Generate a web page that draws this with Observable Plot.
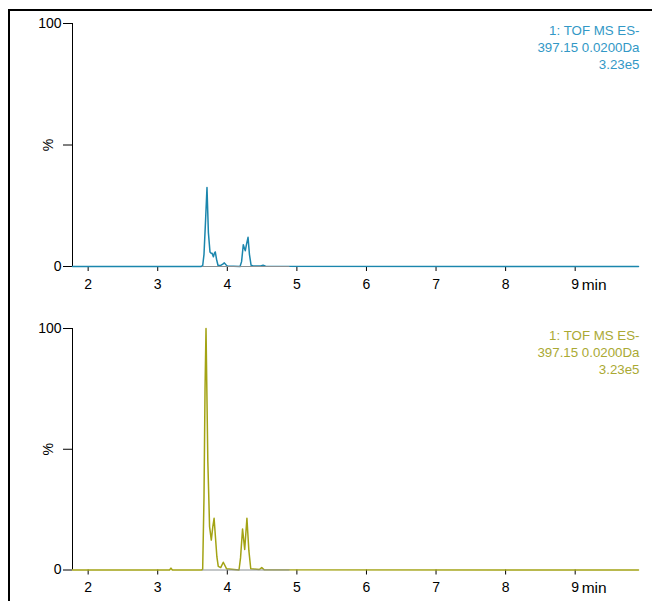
<!DOCTYPE html>
<html>
<head>
<meta charset="utf-8">
<script src="https://cdn.jsdelivr.net/npm/d3@7"></script>
<script src="https://cdn.jsdelivr.net/npm/@observablehq/plot@0.6"></script>
<style>
  html, body { margin: 0; padding: 0; background: #fff; width: 655px; height: 601px; overflow: hidden; }
  #frame { position: absolute; left: 8px; top: 9px; width: 642px; height: 600px; border-left: 2px solid #000; border-top: 2px solid #000; }
  .panel { position: absolute; left: 0; }
  svg { overflow: visible; }
</style>
</head>
<body>
<div id="frame"></div>
<div id="p1" class="panel" style="top:0px"></div>
<div id="p2" class="panel" style="top:302px"></div>
<script>
// ---- data ----
const xTicks = [2, 3, 4, 5, 6, 7, 8, 9];
const yTicks = [0, 50, 100];
const xDomain = [1.775, 9.91];
const titleLines = ["1: TOF MS ES-", "397.15 0.0200Da", "3.23e5"];

// top trace (blue)
const blueTime = [1.775, 3.62, 3.646, 3.665, 3.686, 3.708, 3.728, 3.751, 3.765, 3.78, 3.80, 3.815, 3.827, 3.845, 3.866, 3.90, 3.935, 3.957, 3.98, 4.0, 4.183, 4.205, 4.23, 4.245, 4.259, 4.275, 4.298, 4.318, 4.342, 4.37, 4.48, 4.514, 4.55, 9.91];
const blueInt  = [0,     0,    0.3,   5,     18,    32.5,  14,    6,     5.5,   5.5,  4,    5.5,   6,     3,     0.5,   0.4,  1.0,   1.5,   0.7,  0.2, 0,     2,     9,     7.5,   6.5,   9,     12,    5,     0.5,   0.2,  0.2,  0.5,   0.1,  0];

// bottom trace (olive)
const oliveTime = [1.775, 3.17, 3.19, 3.21, 3.63, 3.646, 3.665, 3.68, 3.694, 3.72, 3.745, 3.77, 3.792, 3.81, 3.85, 3.87, 3.905, 3.942, 3.99, 4.168, 4.19, 4.219, 4.25, 4.282, 4.31, 4.337, 4.46, 4.495, 4.53, 9.91];
const oliveInt  = [0,     0,    0.8,  0,    0,    0.3,   30,    75,   100,   45,   18,    12.4, 18,    21.4, 5.5,  1.5,  1.0,   3.2,   0.5,  0,     5,    17,    8.5,  21.4,  8,    0.5,   0.2,  1.0,   0.1,  0];

const blueLine = "#1b86ad", blueText = "#3298c6";
const oliveLine = "#a3a314", oliveText = "#aaa933";

function panel(time, inten, lineColor, textColor, marginTop, height, marginBottom) {
  const data = time.map((t, i) => ({t, v: inten[i]}));
  return Plot.plot({
    width: 655, height, marginLeft: 72, marginRight: 17, marginTop, marginBottom,
    x: {domain: xDomain},
    y: {domain: [0, 100]},
    style: {fontFamily: "'Liberation Sans', Arial, sans-serif", fontSize: "14px", color: "#000", background: "transparent"},
    marks: [
      Plot.ruleX([xDomain[0]], {y1: 0, y2: 100, stroke: "#000", strokeWidth: 1}),
      Plot.axisY({ticks: yTicks, tickFormat: d => d === 50 ? "" : String(d), tickSize: 9, tickPadding: 2, fontSize: 14, label: null, stroke: "#000"}),
      Plot.text(["%"], {x: xDomain[0], y: 50, dx: -24, rotate: -90, fontSize: 14, fill: "#000"}),
      Plot.axisX({ticks: xTicks, tickSize: 5, tickPadding: 7.5, fontSize: 14, label: null, stroke: "#000"}),
      Plot.text(["min"], {x: 9, y: 0, dx: 6.5, dy: 12, textAnchor: "start", lineAnchor: "top", fontSize: 15.5, fill: "#000"}),
      Plot.line(data, {x: "t", y: "v", stroke: lineColor, strokeWidth: 1.5}),
      Plot.ruleY([0], {x1: 3.645, x2: 4.9, stroke: "#8a8f92", strokeWidth: 1.1}),
      Plot.text([titleLines.join("\n")], {frameAnchor: "top-right", dx: 1, dy: 0, fill: textColor, fontSize: 13.3, lineHeight: 1.26, lineAnchor: "top", textAnchor: "end"})
    ]
  });
}

document.getElementById("p1").append(panel(blueTime, blueInt, blueLine, blueText, 23, 302, 36));
document.getElementById("p2").append(panel(oliveTime, oliveInt, oliveLine, oliveText, 26, 299, 31.5));
</script>
</body>
</html>
